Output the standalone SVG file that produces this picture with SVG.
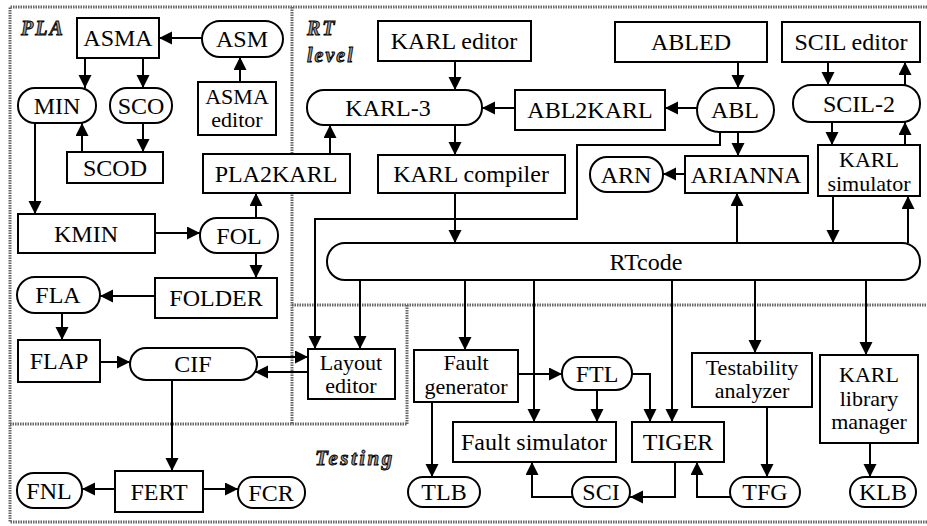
<svg xmlns="http://www.w3.org/2000/svg" width="927" height="526" viewBox="0 0 927 526">
<defs>
<marker id="ah" markerUnits="userSpaceOnUse" markerWidth="14" markerHeight="14" refX="13" refY="6.5" orient="auto">
<path d="M0,0 L13,6.5 L0,13 z" fill="#000"/>
</marker>
</defs>
<rect width="927" height="526" fill="#fff"/>
<g id="regions">
<g fill="none" stroke="#666" stroke-width="3" stroke-dasharray="1.5 1">
<polyline points="927,7 10,7 10,522 927,522"/>
<line x1="292" y1="7" x2="292" y2="424"/>
<line x1="292" y1="305" x2="927" y2="305"/>
<line x1="407" y1="305" x2="407" y2="424"/>
<line x1="10" y1="424" x2="407" y2="424"/>
</g>
<text font-family="Liberation Serif, serif" font-style="italic" font-weight="bold" fill="#999" stroke="#000" stroke-width="0.9" x="21" y="35" font-size="20" letter-spacing="2">PLA</text>
<text font-family="Liberation Serif, serif" font-style="italic" font-weight="bold" fill="#999" stroke="#000" stroke-width="0.9" x="307" y="35" font-size="20" letter-spacing="2">RT</text>
<text font-family="Liberation Serif, serif" font-style="italic" font-weight="bold" fill="#999" stroke="#000" stroke-width="0.9" x="307" y="62" font-size="20" letter-spacing="2">level</text>
<text font-family="Liberation Serif, serif" font-style="italic" font-weight="bold" fill="#999" stroke="#000" stroke-width="0.9" x="315" y="465" font-size="21" letter-spacing="2.5">Testing</text>
</g>
<g id="connectors" fill="none" stroke="#000" stroke-width="2" marker-end="url(#ah)">
<line x1="202" y1="38" x2="159" y2="38"/>
<line x1="240" y1="82" x2="240" y2="57"/>
<line x1="85" y1="58" x2="85" y2="88"/>
<line x1="143" y1="58" x2="143" y2="88"/>
<line x1="143" y1="123" x2="143" y2="152"/>
<line x1="82" y1="152" x2="82" y2="123"/>
<line x1="35" y1="123" x2="35" y2="214"/>
<line x1="155" y1="233" x2="200" y2="233"/>
<line x1="256" y1="218" x2="256" y2="193"/>
<line x1="256" y1="253" x2="256" y2="278"/>
<line x1="155" y1="296" x2="100" y2="296"/>
<line x1="62" y1="313" x2="62" y2="340"/>
<line x1="100" y1="362" x2="130" y2="362"/>
<line x1="257" y1="357" x2="308" y2="357"/>
<line x1="308" y1="372" x2="255" y2="372"/>
<line x1="172" y1="380" x2="172" y2="471"/>
<line x1="115" y1="489" x2="82" y2="489"/>
<line x1="203" y1="489" x2="238" y2="489"/>
<line x1="330" y1="154" x2="330" y2="125"/>
<line x1="455" y1="61" x2="455" y2="90"/>
<line x1="515" y1="108" x2="482" y2="108"/>
<line x1="455" y1="125" x2="455" y2="155"/>
<line x1="455" y1="193" x2="455" y2="243"/>
<line x1="738" y1="62" x2="738" y2="88"/>
<line x1="697" y1="108" x2="665" y2="108"/>
<line x1="738" y1="132" x2="738" y2="156"/>
<line x1="685" y1="174" x2="663" y2="174"/>
<polyline points="720,131 720,145 577,145 577,219 315,219 315,349"/>
<line x1="828" y1="62" x2="828" y2="85"/>
<line x1="905" y1="85" x2="905" y2="62"/>
<line x1="832" y1="122" x2="832" y2="145"/>
<line x1="905" y1="145" x2="905" y2="122"/>
<line x1="737" y1="243" x2="737" y2="193"/>
<line x1="833" y1="196" x2="833" y2="243"/>
<line x1="908" y1="243" x2="908" y2="196"/>
<line x1="360" y1="280" x2="360" y2="349"/>
<line x1="465" y1="280" x2="465" y2="350"/>
<line x1="534" y1="280" x2="534" y2="422"/>
<line x1="672" y1="280" x2="672" y2="422"/>
<line x1="755" y1="280" x2="755" y2="353"/>
<line x1="866" y1="280" x2="866" y2="355"/>
<line x1="518" y1="374" x2="562" y2="374"/>
<line x1="597" y1="390" x2="597" y2="422"/>
<polyline points="632,374 650,374 650,422"/>
<line x1="432" y1="402" x2="432" y2="477"/>
<polyline points="675,462 675,497 630,497"/>
<polyline points="572,497 532,497 532,462"/>
<polyline points="730,497 697,497 697,462"/>
<line x1="767" y1="407" x2="767" y2="477"/>
<line x1="870" y1="443" x2="870" y2="477"/>
</g>
<g id="nodes">
<g id="ASMA"><rect fill="#fff" stroke="#000" stroke-width="2" x="77" y="18" width="82" height="40"/><text font-family="Liberation Serif, serif" font-size="24" text-anchor="middle" x="118" y="46">ASMA</text></g>
<g id="ASM"><rect fill="#fff" stroke="#000" stroke-width="2" x="202" y="21" width="81" height="36" rx="18"/><text font-family="Liberation Serif, serif" font-size="24" text-anchor="middle" x="242" y="47">ASM</text></g>
<g id="ASMA_editor"><rect fill="#fff" stroke="#000" stroke-width="2" x="198" y="82" width="78" height="53"/><text font-family="Liberation Serif, serif" font-size="22" text-anchor="middle" x="237" y="104">ASMA</text><text font-family="Liberation Serif, serif" font-size="22" text-anchor="middle" x="237" y="127">editor</text></g>
<g id="MIN"><rect fill="#fff" stroke="#000" stroke-width="2" x="18" y="88" width="78" height="35" rx="17"/><text font-family="Liberation Serif, serif" font-size="24" text-anchor="middle" x="57" y="114">MIN</text></g>
<g id="SCO"><rect fill="#fff" stroke="#000" stroke-width="2" x="110" y="88" width="62" height="35" rx="17"/><text font-family="Liberation Serif, serif" font-size="24" text-anchor="middle" x="141" y="114">SCO</text></g>
<g id="SCOD"><rect fill="#fff" stroke="#000" stroke-width="2" x="67" y="152" width="96" height="31"/><text font-family="Liberation Serif, serif" font-size="24" text-anchor="middle" x="115" y="176">SCOD</text></g>
<g id="PLA2KARL"><rect fill="#fff" stroke="#000" stroke-width="2" x="203" y="154" width="147" height="39"/><text font-family="Liberation Serif, serif" font-size="24" text-anchor="middle" x="276" y="182">PLA2KARL</text></g>
<g id="KMIN"><rect fill="#fff" stroke="#000" stroke-width="2" x="18" y="214" width="137" height="39"/><text font-family="Liberation Serif, serif" font-size="24" text-anchor="middle" x="86" y="242">KMIN</text></g>
<g id="FOL"><rect fill="#fff" stroke="#000" stroke-width="2" x="200" y="218" width="78" height="35" rx="17"/><text font-family="Liberation Serif, serif" font-size="24" text-anchor="middle" x="239" y="244">FOL</text></g>
<g id="FOLDER"><rect fill="#fff" stroke="#000" stroke-width="2" x="155" y="278" width="122" height="40"/><text font-family="Liberation Serif, serif" font-size="24" text-anchor="middle" x="216" y="306">FOLDER</text></g>
<g id="FLA"><rect fill="#fff" stroke="#000" stroke-width="2" x="17" y="277" width="83" height="36" rx="18"/><text font-family="Liberation Serif, serif" font-size="24" text-anchor="middle" x="58" y="303">FLA</text></g>
<g id="FLAP"><rect fill="#fff" stroke="#000" stroke-width="2" x="18" y="340" width="82" height="42"/><text font-family="Liberation Serif, serif" font-size="24" text-anchor="middle" x="59" y="369">FLAP</text></g>
<g id="CIF"><rect fill="#fff" stroke="#000" stroke-width="2" x="130" y="348" width="127" height="32" rx="16"/><text font-family="Liberation Serif, serif" font-size="24" text-anchor="middle" x="193" y="372">CIF</text></g>
<g id="FERT"><rect fill="#fff" stroke="#000" stroke-width="2" x="115" y="471" width="88" height="41"/><text font-family="Liberation Serif, serif" font-size="24" text-anchor="middle" x="159" y="500">FERT</text></g>
<g id="FNL"><rect fill="#fff" stroke="#000" stroke-width="2" x="17" y="473" width="65" height="35" rx="17"/><text font-family="Liberation Serif, serif" font-size="24" text-anchor="middle" x="49" y="499">FNL</text></g>
<g id="FCR"><rect fill="#fff" stroke="#000" stroke-width="2" x="238" y="477" width="67" height="31" rx="15"/><text font-family="Liberation Serif, serif" font-size="24" text-anchor="middle" x="271" y="501">FCR</text></g>
<g id="KARL_editor"><rect fill="#fff" stroke="#000" stroke-width="2" x="378" y="21" width="153" height="40"/><text font-family="Liberation Serif, serif" font-size="24" text-anchor="middle" x="454" y="49">KARL editor</text></g>
<g id="KARL-3"><rect fill="#fff" stroke="#000" stroke-width="2" x="307" y="90" width="175" height="35" rx="17"/><text font-family="Liberation Serif, serif" font-size="24" text-anchor="middle" x="388" y="116">KARL-3</text></g>
<g id="ABL2KARL"><rect fill="#fff" stroke="#000" stroke-width="2" x="515" y="90" width="150" height="40"/><text font-family="Liberation Serif, serif" font-size="24" text-anchor="middle" x="590" y="118">ABL2KARL</text></g>
<g id="KARL_compiler"><rect fill="#fff" stroke="#000" stroke-width="2" x="378" y="155" width="187" height="38"/><text font-family="Liberation Serif, serif" font-size="24" text-anchor="middle" x="471" y="182">KARL compiler</text></g>
<g id="ABLED"><rect fill="#fff" stroke="#000" stroke-width="2" x="615" y="22" width="152" height="40"/><text font-family="Liberation Serif, serif" font-size="24" text-anchor="middle" x="691" y="50">ABLED</text></g>
<g id="ABL"><rect fill="#fff" stroke="#000" stroke-width="2" x="697" y="88" width="77" height="44" rx="22"/><text font-family="Liberation Serif, serif" font-size="24" text-anchor="middle" x="735" y="118">ABL</text></g>
<g id="ARIANNA"><rect fill="#fff" stroke="#000" stroke-width="2" x="685" y="156" width="123" height="37"/><text font-family="Liberation Serif, serif" font-size="24" text-anchor="middle" x="746" y="183">ARIANNA</text></g>
<g id="ARN"><rect fill="#fff" stroke="#000" stroke-width="2" x="590" y="157" width="73" height="35" rx="17"/><text font-family="Liberation Serif, serif" font-size="24" text-anchor="middle" x="626" y="183">ARN</text></g>
<g id="SCIL_editor"><rect fill="#fff" stroke="#000" stroke-width="2" x="782" y="22" width="138" height="40"/><text font-family="Liberation Serif, serif" font-size="24" text-anchor="middle" x="851" y="50">SCIL editor</text></g>
<g id="SCIL-2"><rect fill="#fff" stroke="#000" stroke-width="2" x="793" y="85" width="127" height="37" rx="18"/><text font-family="Liberation Serif, serif" font-size="24" text-anchor="middle" x="859" y="112">SCIL-2</text></g>
<g id="KARL_simulator"><rect fill="#fff" stroke="#000" stroke-width="2" x="818" y="145" width="102" height="51"/><text font-family="Liberation Serif, serif" font-size="22" text-anchor="middle" x="869" y="167">KARL</text><text font-family="Liberation Serif, serif" font-size="22" text-anchor="middle" x="869" y="191">simulator</text></g>
<g id="RTcode"><rect fill="#fff" stroke="#000" stroke-width="2" x="327" y="243" width="593" height="37" rx="18"/><text font-family="Liberation Serif, serif" font-size="24" text-anchor="middle" x="646" y="270">RTcode</text></g>
<g id="Layout_editor"><rect fill="#fff" stroke="#000" stroke-width="2" x="308" y="349" width="87" height="50"/><text font-family="Liberation Serif, serif" font-size="22" text-anchor="middle" x="351" y="370">Layout</text><text font-family="Liberation Serif, serif" font-size="22" text-anchor="middle" x="351" y="393">editor</text></g>
<g id="Fault_generator"><rect fill="#fff" stroke="#000" stroke-width="2" x="414" y="350" width="104" height="52"/><text font-family="Liberation Serif, serif" font-size="22" text-anchor="middle" x="466" y="370">Fault</text><text font-family="Liberation Serif, serif" font-size="22" text-anchor="middle" x="466" y="394">generator</text></g>
<g id="FTL"><rect fill="#fff" stroke="#000" stroke-width="2" x="562" y="357" width="70" height="33" rx="16"/><text font-family="Liberation Serif, serif" font-size="24" text-anchor="middle" x="597" y="382">FTL</text></g>
<g id="Fault_simulator"><rect fill="#fff" stroke="#000" stroke-width="2" x="453" y="422" width="163" height="40"/><text font-family="Liberation Serif, serif" font-size="24" text-anchor="middle" x="534" y="450">Fault simulator</text></g>
<g id="TIGER"><rect fill="#fff" stroke="#000" stroke-width="2" x="632" y="422" width="92" height="40"/><text font-family="Liberation Serif, serif" font-size="24" text-anchor="middle" x="678" y="450">TIGER</text></g>
<g id="Testability_analyzer"><rect fill="#fff" stroke="#000" stroke-width="2" x="692" y="353" width="120" height="54"/><text font-family="Liberation Serif, serif" font-size="22" text-anchor="middle" x="752" y="375">Testability</text><text font-family="Liberation Serif, serif" font-size="22" text-anchor="middle" x="752" y="398">analyzer</text></g>
<g id="KARL_library_manager"><rect fill="#fff" stroke="#000" stroke-width="2" x="820" y="355" width="98" height="88"/><text font-family="Liberation Serif, serif" font-size="22" text-anchor="middle" x="869" y="382">KARL</text><text font-family="Liberation Serif, serif" font-size="22" text-anchor="middle" x="869" y="406">library</text><text font-family="Liberation Serif, serif" font-size="22" text-anchor="middle" x="869" y="429">manager</text></g>
<g id="TLB"><rect fill="#fff" stroke="#000" stroke-width="2" x="408" y="477" width="72" height="30" rx="15"/><text font-family="Liberation Serif, serif" font-size="24" text-anchor="middle" x="444" y="500">TLB</text></g>
<g id="SCI"><rect fill="#fff" stroke="#000" stroke-width="2" x="572" y="477" width="58" height="30" rx="15"/><text font-family="Liberation Serif, serif" font-size="24" text-anchor="middle" x="601" y="500">SCI</text></g>
<g id="TFG"><rect fill="#fff" stroke="#000" stroke-width="2" x="730" y="477" width="70" height="30" rx="15"/><text font-family="Liberation Serif, serif" font-size="24" text-anchor="middle" x="765" y="500">TFG</text></g>
<g id="KLB"><rect fill="#fff" stroke="#000" stroke-width="2" x="850" y="477" width="66" height="30" rx="15"/><text font-family="Liberation Serif, serif" font-size="24" text-anchor="middle" x="883" y="500">KLB</text></g>
</g>
</svg>
